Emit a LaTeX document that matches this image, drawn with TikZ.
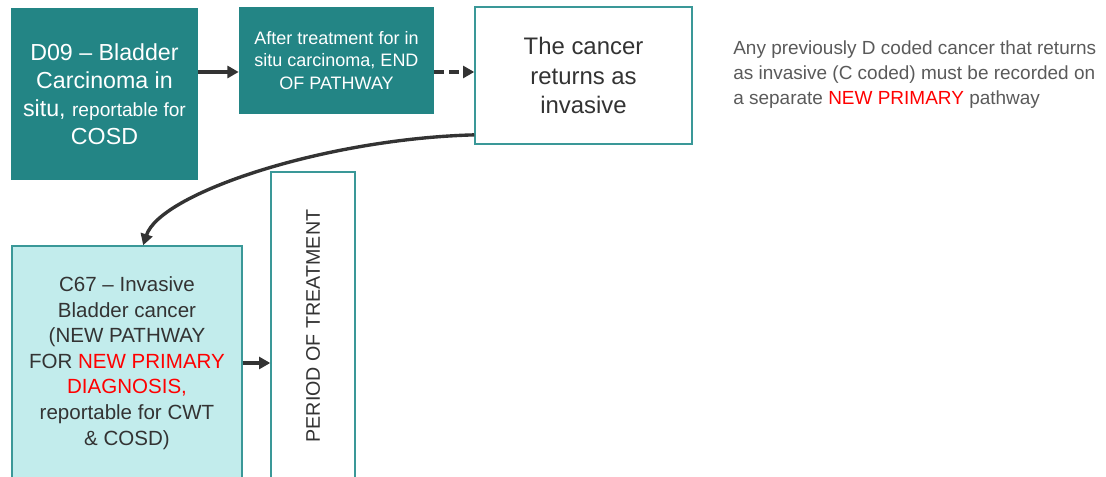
\documentclass[tikz,border=0pt]{standalone}
\usepackage{fontspec}
\setmainfont{Liberation Sans}
\usepackage{xcolor}
\usepackage{tikz}
\usetikzlibrary{positioning,%
  arrows.meta,%
  calc
}
\definecolor{tealbox}{HTML}{238585}
\definecolor{tealline}{HTML}{3A9898}
\definecolor{lightcyan}{HTML}{C2ECEC}
\definecolor{darktext}{HTML}{333333}
\definecolor{notegray}{HTML}{5A5A5A}
\definecolor{alertred}{HTML}{FF0000}

\begin{document}
\begin{tikzpicture}
                    [
                        x=0.025cm, y=-0.025cm,
                        every node/.style={inner sep=0pt, align=center},
                        darkbox/.style={fill=tealbox, text=white},
                        linebox/.style={draw=tealline, line width=1pt, fill=white, text=darktext},
                        flow/.style={draw=darktext, line width=2.4pt, -{Triangle[length=8pt,width=8.5pt]}}
                    ]

                    % Rahmen
                    \useasboundingbox (0,0) rectangle (1106,477);

                    \node[darkbox, minimum width=4.675cm, minimum height=4.3cm,
                          font=\fontsize{16.5}{20}\selectfont] (d09) at (104.5,94)
                        {D09 – Bladder\\Carcinoma in\\situ, {\fontsize{13.6}{20}\selectfont reportable for}\\COSD};
                    \node[darkbox, minimum width=4.875cm, minimum height=2.675cm,
                          font=\fontsize{12.8}{16}\selectfont] (endpath) at (336.5,60.5)
                        {After treatment for in\\situ carcinoma, END\\OF PATHWAY};
                    \node[linebox, minimum width=5.425cm, minimum height=3.425cm,
                          font=\fontsize{17}{20.8}\selectfont] (invasive) at (583.5,75.5)
                        {The cancer\\returns as\\invasive};
                    \node[anchor=north west, align=left, text=notegray,
                          font=\fontsize{13.5}{17.8}\selectfont] (note) at (733,40)
                        {Any previously D coded cancer that returns\\as invasive (C coded) must be recorded on\\a separate \textcolor{alertred}{NEW PRIMARY} pathway};

                    \node[linebox, fill=lightcyan, minimum width=5.75cm, minimum height=5.85cm,
                          font=\fontsize{14.6}{18.2}\selectfont] (c67) at (127,363)
                        {C67 – Invasive\\Bladder cancer\\(NEW PATHWAY\\FOR \textcolor{alertred}{NEW PRIMARY}\\\textcolor{alertred}{DIAGNOSIS,}\\reportable for CWT\\\& COSD)};
                    \node[linebox, minimum width=2.1cm, minimum height=7.7cm] (period) at (313,326) {};
                    \node[rotate=90, text=darktext, font=\fontsize{14}{17}\selectfont] (periodlabel) at (period.center)
                        {PERIOD OF TREATMENT};

                    % Pfeile
                    \coordinate (rowA) at (0,72);
                    \draw[flow] (d09.east |- rowA) -- (endpath.west |- rowA);
                    \draw[flow, dash pattern=on 7pt off 3.5pt] (endpath.east |- rowA) -- (invasive.west |- rowA);
                    \draw[flow] ([yshift=7pt]invasive.south west) .. controls +(-150,4) and +(17,-52) .. ([xshift=11.5pt]c67.north);
                    \draw[flow] (c67.east) -- (c67.east -| period.west);
                \end{tikzpicture}
\end{document}
